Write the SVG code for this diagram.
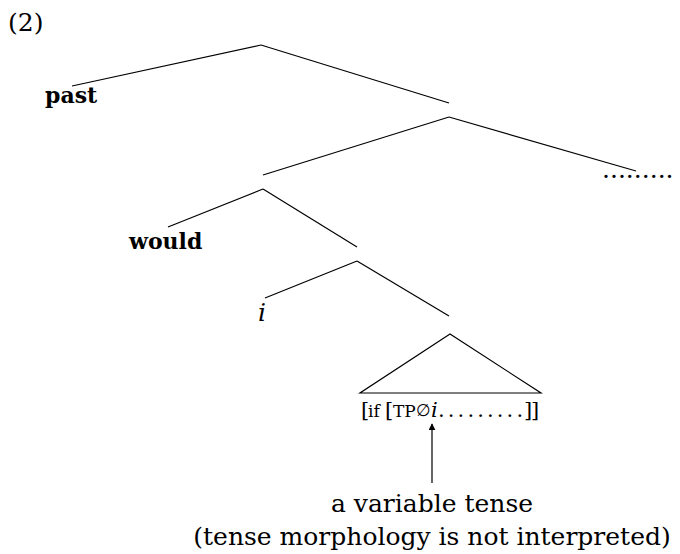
<svg xmlns="http://www.w3.org/2000/svg" width="680" height="554" viewBox="0 0 680 554">
<style>
text{font-family:"DejaVu Serif","Liberation Serif",serif;fill:#000}
.lbl{font-size:25px}
.b{font-weight:bold;font-size:22px}
.sm{font-size:17px}
.br{font-size:21px}
line,polygon.t{stroke:#000;stroke-width:1.2;fill:none}
</style>
<defs>
<marker id="ah" viewBox="0 0 10 10" refX="9" refY="5" markerWidth="7" markerHeight="7" markerUnits="userSpaceOnUse" orient="auto">
<path d="M0,0 L10,5 L0,10 z" fill="#000"/>
</marker>
</defs>
<rect width="680" height="554" fill="#fff"/>
<g id="example-number"><text class="lbl" x="8" y="31">(2)</text></g>
<g id="connectors">
<line x1="261" y1="45" x2="72" y2="86"/>
<line x1="261" y1="45" x2="449" y2="103"/>
<line x1="449" y1="117" x2="263" y2="175"/>
<line x1="449" y1="117" x2="636" y2="171"/>
<line x1="263" y1="189" x2="168" y2="227"/>
<line x1="263" y1="189" x2="357" y2="247"/>
<line x1="357" y1="261" x2="265" y2="298"/>
<line x1="357" y1="261" x2="449" y2="316"/>
<polygon class="t" points="450,334 360,393 541,393"/>
<line x1="432" y1="483" x2="432" y2="424" stroke-width="2" marker-end="url(#ah)"/>
</g>
<g id="past"><text class="b" x="45" y="103">past</text></g>
<g id="would"><text class="b" x="129" y="249">would</text></g>
<g id="index-i"><text class="lbl" x="258" y="321" font-style="italic">i</text></g>
<g id="dots"><text class="lbl" x="602" y="178">.........</text></g>
<g id="if-clause">
<text class="br" x="361" y="417">[</text>
<text class="sm" x="368" y="417">if</text>
<text class="br" x="385" y="417">[</text>
<text class="sm" x="393" y="417">TP</text>
<text x="416" y="416" font-size="17" style="font-family:'DejaVu Sans',sans-serif">∅</text>
<text class="br" x="431" y="417" font-style="italic">i</text>
<text class="br" y="417" x="438 447.8 457.6 467.4 477.2 487 496.8 506.6 516.4">.........</text>
<text class="br" y="417" x="524 531">]]</text>
</g>
<g id="annotation">
<text class="lbl" x="432" y="512" text-anchor="middle">a variable tense</text>
<text class="lbl" x="432" y="545" text-anchor="middle">(tense morphology is not interpreted)</text>
</g>
</svg>
